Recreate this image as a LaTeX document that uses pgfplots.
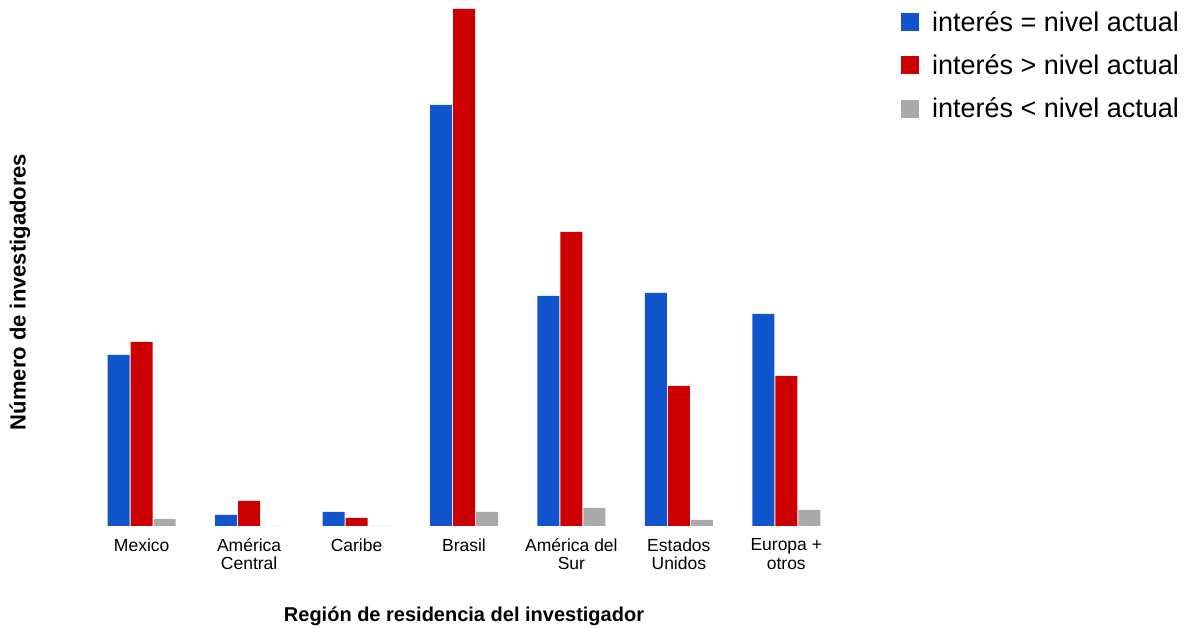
\documentclass[border=0pt]{standalone}
\usepackage{pgfplots}
\pgfplotsset{compat=1.18}
\usepackage{fontspec}
\setmainfont{Liberation Sans}
\definecolor{cblue}{HTML}{1155CC}
\definecolor{cred}{HTML}{CC0000}
\definecolor{cgray}{HTML}{AAAAAA}
\begin{document}
\begin{tikzpicture}
\useasboundingbox (0,0) rectangle (1187pt,628pt);
\begin{axis}[
    at={(88pt,102pt)}, anchor=south west,
    scale only axis,
    width=752pt, height=526pt,
    xmin=-0.5, xmax=6.5,
    ymin=0, ymax=526,
    enlarge y limits=false,
    clip=false,
    ybar=1pt,
    bar width=22pt,
    axis x line*=bottom, axis y line*=left,
    axis line style={draw=none},
    ytick=\empty,
    xtick=data,
    major tick length=0pt,
    xticklabels={Mexico, Am\'erica\\Central, Caribe, Brasil, Am\'erica del\\Sur, Estados\\Unidos, Europa +\\otros},
    xticklabel style={align=center, font=\fontsize{17.5}{18.5}\selectfont, yshift=-9pt},
    xlabel={\textbf{Región de residencia del investigador}},
    xlabel style={font=\fontsize{20}{24}\selectfont, yshift=-30pt},
    ylabel={\textbf{Número de investigadores}},
    every axis y label/.style={at={(rel axis cs:0,0.445)}, xshift=-68pt, rotate=90, anchor=center, font=\fontsize{22}{26}\selectfont},
    legend style={at={(rel axis cs:1.077,1)}, anchor=north west, draw=none, fill=none,
        font=\fontsize{27}{31}\selectfont, row sep=18pt, yshift=-7pt,
        /tikz/every odd column/.append style={column sep=11pt}},
    legend cell align=left,
    legend image code/.code={\fill[#1, draw=none] (0pt,-9pt) rectangle (18pt,9pt);},
]
\addplot[fill=cblue, draw=none] coordinates {(0,171) (1,11) (2,14) (3,421) (4,230) (5,233) (6,212)};
\addplot[fill=cred, draw=none] coordinates {(0,184) (1,25) (2,8) (3,517) (4,294) (5,140) (6,150)};
\addplot[fill=cgray, draw=none] coordinates {(0,7) (1,0) (2,0) (3,14) (4,18) (5,6) (6,16)};
\legend{interés = nivel actual, interés > nivel actual, interés < nivel actual}
\end{axis}
\end{tikzpicture}
\end{document}
